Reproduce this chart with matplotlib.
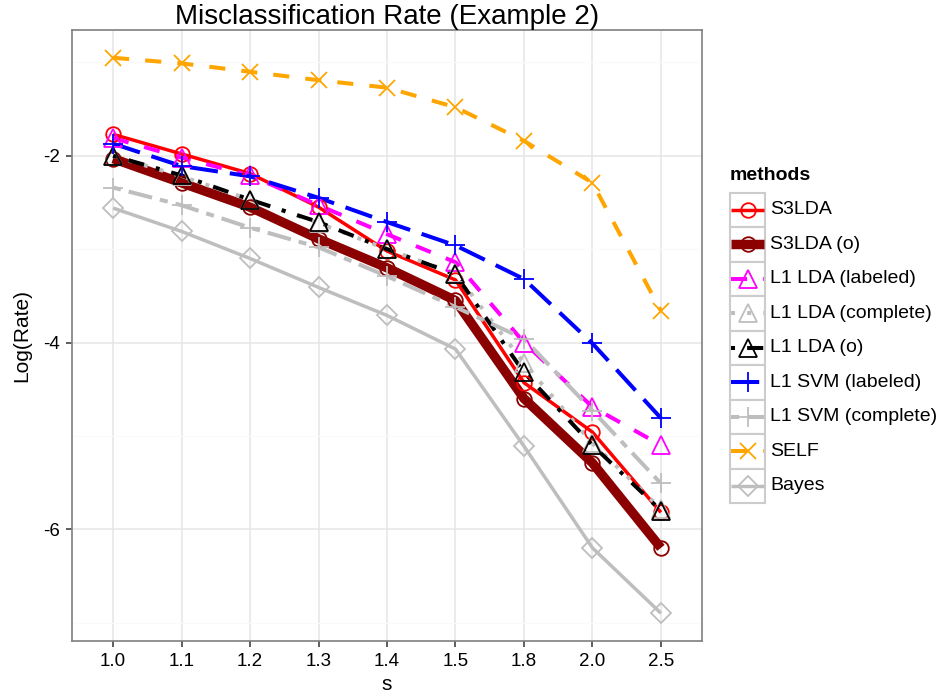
import matplotlib
matplotlib.use("Agg")
import matplotlib.pyplot as plt
from matplotlib.patches import Rectangle
from matplotlib.lines import Line2D
import numpy as np

plt.rcParams['font.family'] = ['Liberation Sans', 'DejaVu Sans']
plt.rcParams['axes.unicode_minus'] = False

# ---- data ----
s_labels = ["1.0", "1.1", "1.2", "1.3", "1.4", "1.5", "1.8", "2.0", "2.5"]
methods = ["S3LDA", "S3LDA (o)", "L1 LDA (labeled)", "L1 LDA (complete)", "L1 LDA (o)",
           "L1 SVM (labeled)", "L1 SVM (complete)", "SELF", "Bayes"]
s3lda      = [-1.77, -1.98, -2.19, -2.55, -3.02, -3.33, -4.43, -4.96, -5.82]
s3lda_o    = [-2.03, -2.29, -2.55, -2.89, -3.20, -3.55, -4.60, -5.29, -6.20]
l1lda_lab  = [-1.81, -2.02, -2.21, -2.53, -2.84, -3.14, -4.00, -4.69, -5.10]
l1lda_comp = [-2.00, -2.22, -2.47, -2.72, -3.00, -3.26, -4.22, -5.08, -5.78]
l1lda_o    = [-2.00, -2.21, -2.47, -2.71, -3.00, -3.27, -4.32, -5.10, -5.80]
l1svm_lab  = [-1.87, -2.11, -2.22, -2.45, -2.71, -2.96, -3.32, -4.01, -4.81]
l1svm_comp = [-2.34, -2.53, -2.77, -2.98, -3.29, -3.62, -3.96, -4.73, -5.51]
self_vals  = [-0.95, -1.01, -1.10, -1.19, -1.27, -1.48, -1.84, -2.29, -3.66]
bayes      = [-2.56, -2.81, -3.10, -3.41, -3.71, -4.07, -5.11, -6.20, -6.90]
series = [s3lda, s3lda_o, l1lda_lab, l1lda_comp, l1lda_o, l1svm_lab, l1svm_comp, self_vals, bayes]

# ---- styles ----
grey = "#BEBEBE"
styles = [
    dict(color="#FF0000", lw=2.5, dashes=None, marker="o", ms=10.5),
    dict(color="#8B0000", lw=6.8, dashes=None, marker="o", ms=10.5),
    dict(color="#FF00FF", lw=2.9, dashes=(4, 4), marker="^", ms=12.5),
    dict(color=grey, lw=2.9, dashes=(1, 3), marker="^", ms=12.5),
    dict(color="#000000", lw=2.9, dashes=(1, 3, 4, 3), marker="^", ms=12.5),
    dict(color="#0000FF", lw=2.9, dashes=(7, 3), marker="+", ms=15),
    dict(color=grey, lw=2.9, dashes=(2, 2, 6, 2), marker="+", ms=15),
    dict(color="#FFA500", lw=2.9, dashes=(4, 4), marker="x", ms=11.5),
    dict(color=grey, lw=2.5, dashes=None, marker="D", ms=10),
]

W, H = 943, 698
fig = plt.figure(figsize=(W / 100, H / 100), dpi=100)
pl, pr, pt, pb = 72, 702, 30, 641
ax = fig.add_axes([pl / W, 1 - pb / H, (pr - pl) / W, (pb - pt) / H])

x = np.arange(1, len(s_labels) + 1)
for i, (vals, st) in enumerate(zip(series, styles)):
    ln, = ax.plot(x, vals, color=st["color"], lw=st["lw"], zorder=3 + i * 0.01,
                  solid_capstyle="butt", dash_capstyle="butt")
    if st["dashes"] is not None:
        ln.set_dashes(st["dashes"])
for i, (vals, st) in enumerate(zip(series, styles)):
    ax.plot(x, vals, linestyle="none", marker=st["marker"], ms=st["ms"],
            mfc="none", mec=st["color"], mew=1.3, zorder=4 + i * 0.01)

allv = np.concatenate([np.array(v) for v in series])
rng = allv.max() - allv.min()
ax.set_ylim(allv.min() - 0.05 * rng, allv.max() + 0.05 * rng)
ax.set_xlim(0.4, len(s_labels) + 0.6)
ax.set_xticks(x)
ax.set_xticklabels(s_labels)
ax.set_yticks([-6, -4, -2])
ax.set_yticklabels(["-6", "-4", "-2"])
ax.set_yticks([-7, -5, -3, -1], minor=True)
ax.grid(True, which="major", color="#E5E5E5", lw=1.1, zorder=0)
ax.grid(True, which="minor", axis="y", color="#FAFAFA", lw=0.9, zorder=0)
ax.set_axisbelow(True)
for sp in ax.spines.values():
    sp.set_color("#7F7F7F")
    sp.set_linewidth(1.2)
ax.tick_params(axis="both", which="major", direction="out", length=4, width=1.1,
               color="#333333", labelsize=13.5, labelcolor="black", pad=5)
ax.tick_params(axis="both", which="minor", length=0)
ax.set_xlabel("s", fontsize=15, labelpad=3)
ax.set_ylabel("Log(Rate)", fontsize=15, labelpad=8)
ax.set_title("Misclassification Rate (Example 2)", fontsize=20, pad=4)

# ---- legend (manual, ggplot style) ----
lax = fig.add_axes([0, 0, 1, 1])
lax.set_xlim(0, W)
lax.set_ylim(H, 0)
lax.axis("off")
lax.text(730, 176, "methods", fontsize=14, fontweight="bold", ha="left", va="center")
kx0, kw, kh = 730, 35, 34.5
ky0 = 192.5
for i, (name, st) in enumerate(zip(methods, styles)):
    top = ky0 + i * kh
    lax.add_patch(Rectangle((kx0, top), kw, kh, facecolor="white", edgecolor="#CCCCCC", lw=1.5))
    cy = top + kh / 2
    ln = Line2D([kx0 + 1, kx0 + kw - 1], [cy, cy], color=st["color"], lw=st["lw"],
                solid_capstyle="butt", dash_capstyle="butt")
    if st["dashes"] is not None:
        ln.set_dashes(st["dashes"])
    lax.add_line(ln)
    lax.add_line(Line2D([kx0 + kw / 2], [cy], linestyle="none", marker=st["marker"], ms=st["ms"],
                        mfc="none", mec=st["color"], mew=1.3))
    lax.text(770, cy, name, fontsize=14, ha="left", va="center")

fig.savefig("out.png", dpi=100)
